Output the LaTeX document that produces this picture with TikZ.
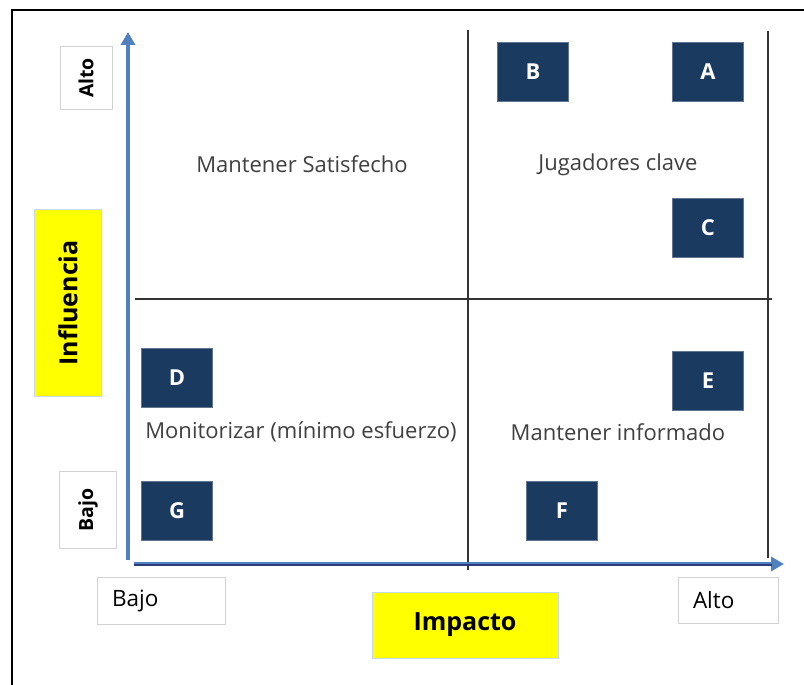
\documentclass[tikz,border=0pt]{standalone}
\usepackage{fontspec}
\setmainfont{Open Sans}
\usetikzlibrary{arrows.meta,positioning}
\definecolor{cellnavy}{HTML}{1B3A60}
\definecolor{axisblue}{HTML}{5080BE}
\definecolor{axisnavy}{HTML}{2C3C78}
\definecolor{gridgray}{HTML}{333333}
\definecolor{labelgray}{HTML}{404040}
\definecolor{hiyellow}{HTML}{FFFF00}
\definecolor{boxedge}{HTML}{D2D2D2}
\definecolor{yellowedge}{HTML}{C8D8EC}
\tikzset{
  stakebox/.style={
    fill=cellnavy,
    draw=cellnavy!70!white,
    text=white,
    minimum width=71pt,
    minimum height=59pt,
    inner sep=0pt,
    font=\fontsize{22}{26}\selectfont\bfseries
  },
  quadtext/.style={text=labelgray, inner sep=0pt, font=\fontsize{22}{26}\selectfont},
  levelbox/.style={draw=boxedge, fill=white, line width=0.9pt, inner sep=0pt},
  levelvert/.style={levelbox, rotate=90, font=\fontsize{19.5}{23}\selectfont\bfseries},
  levelhorz/.style={levelbox, align=left, inner xsep=15pt, font=\fontsize{22.5}{26}\selectfont},
  axistitle/.style={fill=hiyellow, draw=yellowedge, line width=0.9pt, inner sep=0pt, font=\fontsize{25}{30}\selectfont\bfseries},
  axisarrow/.style={-{Triangle[length=13pt,width=14pt]}, line width=3.6pt, draw=axisblue},
  gridline/.style={draw=gridgray, line width=1.3pt}
}

\begin{document}
\begin{tikzpicture}[x=1pt, y=-1pt]
  \useasboundingbox[fill=white] (0,0) rectangle (804,685);
  \draw[line width=2pt] (12,685) -- (12,10) -- (804,10);

  % axes and quadrant lines
  \coordinate (yfoot) at (128,560);
  \coordinate (ytop) at (128,32);
  \coordinate (xfoot) at (134,564);
  \coordinate (xtip) at (784,564);
  \coordinate (midtop) at (468,30);
  \coordinate (midbot) at (468,570);
  \coordinate (righttop) at (768,31);
  \coordinate (rightbot) at (768,558);
  \coordinate (midleft) at (135,299);
  \coordinate (midright) at (772,299);
  \draw[gridline] (midtop) -- (midbot);
  \draw[gridline] (righttop) -- (rightbot);
  \draw[gridline] (midleft) -- (midright);
  \draw[axisarrow] (yfoot) -- (ytop);
  \draw[axisarrow] (xfoot) -- (xtip);
  \draw[axisnavy, line width=1.6pt] ([yshift=-1.2pt]xfoot) -- ([yshift=-1.2pt,xshift=-12pt]xtip);

  % stakeholders
  \node[stakebox] (b) at (533,72) {B};
  \node[stakebox] (a) at (708,72) {A};
  \node[stakebox] (c) at (708,228) {C};
  \node[stakebox] (d) at (177,378) {D};
  \node[stakebox] (e) at (708,381) {E};
  \node[stakebox] (g) at (177,511) {G};
  \node[stakebox] (f) at (562,511) {F};

  \node[quadtext] (keepsat) at (302,164) {Mantener Satisfecho};
  \node[quadtext] (keyplay) at (618,165) {Jugadores clave};
  \node[quadtext] (monitor) at (301,432) {Monitorizar (mínimo esfuerzo)};
  \node[quadtext] (keepinf) at (618,432) {Mantener informado};

  % axis labels
  \node[levelvert, minimum width=63pt, minimum height=52pt] (yhigh) at (86,78) {Alto};
  \node[levelvert, minimum width=77pt, minimum height=57pt] (ylow) at (88,510) {Bajo};
  \node[axistitle, rotate=90, minimum width=187pt, minimum height=67pt] (yname) at (68,303) {Influencia};
  \node[levelhorz, text width=98pt, minimum height=47pt] (xlow) at (161,601) {Bajo};
  \node[levelhorz, text width=70pt, minimum height=46pt] (xhigh) at (728,600) {Alto};
  \node[axistitle, minimum width=186pt, minimum height=66pt] (xname) at (465,625) {Impacto};
\end{tikzpicture}
\end{document}
